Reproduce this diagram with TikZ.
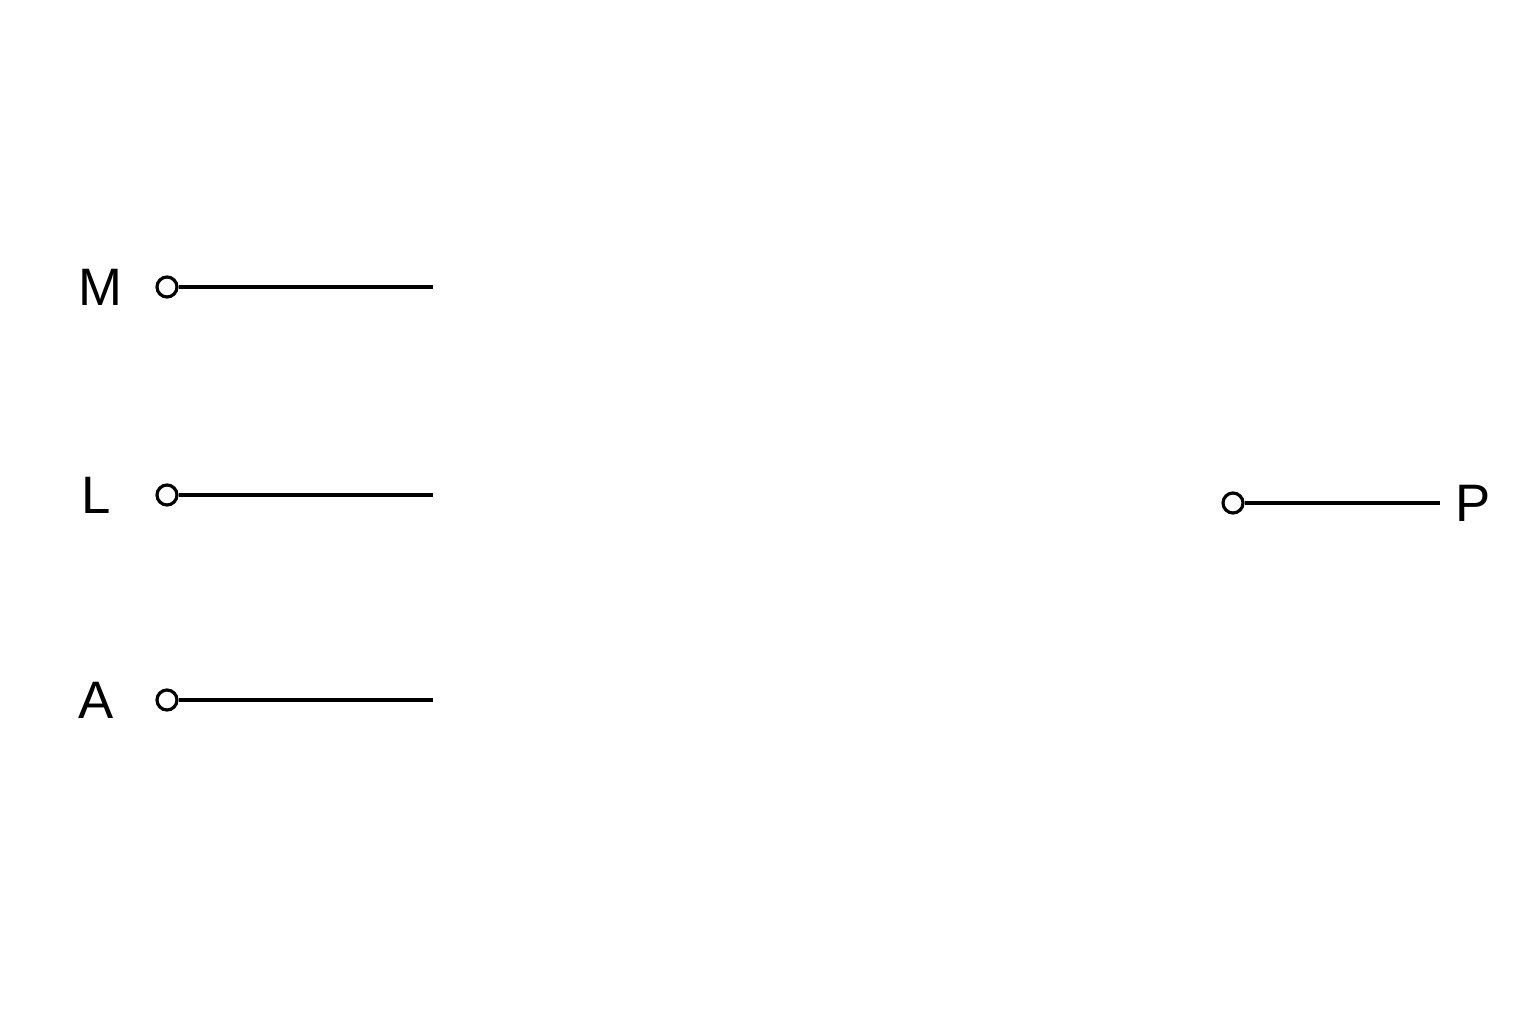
\documentclass[tikz,border=0pt]{standalone}
\usepackage{fontspec}
\setmainfont{Liberation Sans}
\usetikzlibrary{positioning}
\begin{document}
\begin{tikzpicture}[x=1cm,y=1cm,
  port/.style={circle,draw,line width=0.9pt,fill=white,inner sep=0pt,minimum size=0.2cm},
  lbl/.style={font=\fontsize{15}{18}\selectfont}]
\useasboundingbox (0,0) rectangle (15.36,10.24);
\node[lbl] at (1.00,7.37) (mlabel) {M};
\node[lbl] at (0.96,5.29) (llabel) {L};
\node[lbl] at (0.96,3.24) (alabel) {A};
\node[lbl] at (14.73,5.21) (plabel) {P};
\node[port] at (1.67,7.37) (mport) {};
\node[port] at (1.67,5.29) (lport) {};
\node[port] at (1.67,3.24) (aport) {};
\node[port] at (12.33,5.21) (pport) {};
\coordinate (mend) at (4.33,7.37);
\coordinate (lend) at (4.33,5.29);
\coordinate (aend) at (4.33,3.24);
\coordinate (pend) at (14.40,5.21);
\draw [line width=0.9pt] (mport) -- (mend);
\draw [line width=0.9pt] (lport) -- (lend);
\draw [line width=0.9pt] (aport) -- (aend);
\draw [line width=0.9pt] (pport) -- (pend);
\end{tikzpicture}
\end{document}
